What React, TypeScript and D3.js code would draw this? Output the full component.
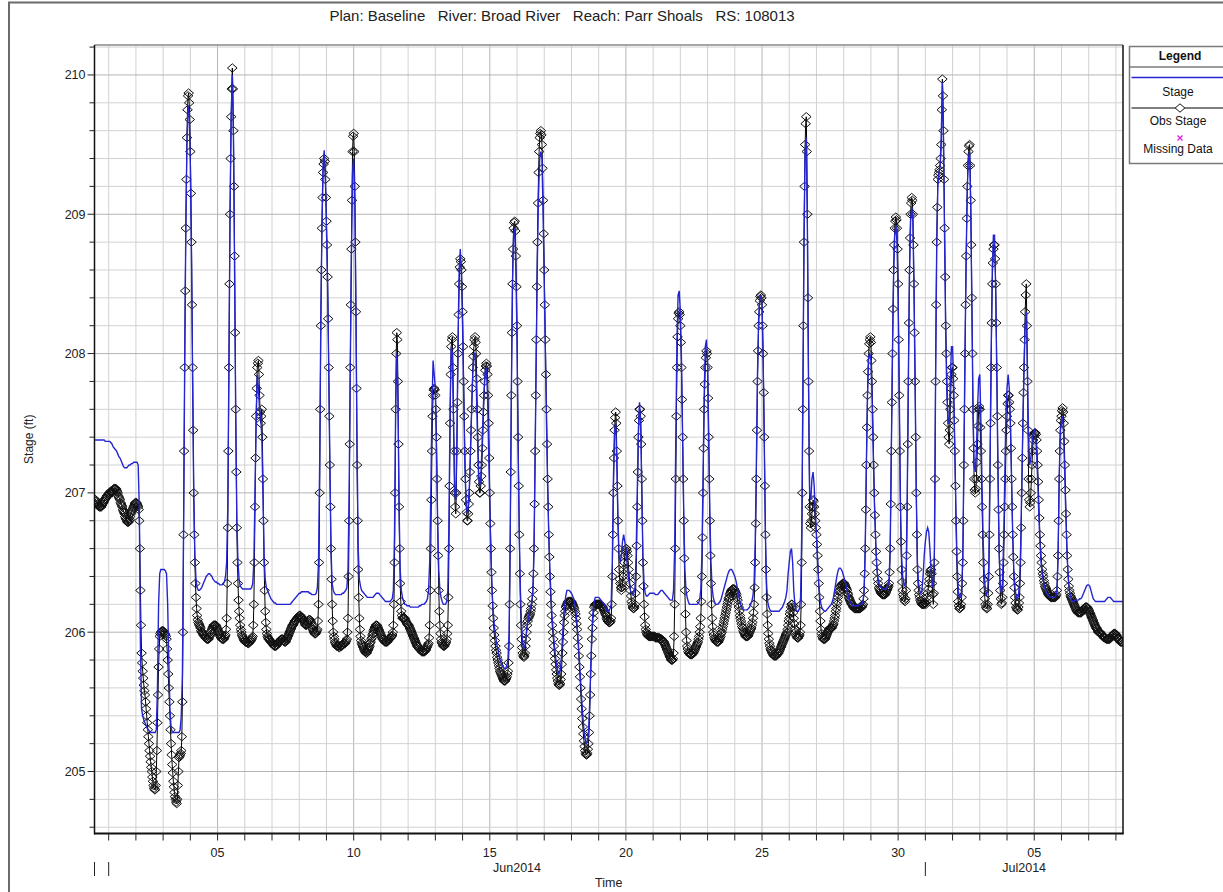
//stage hydrograph: computed stage vs observed stage
import React, { useEffect, useRef } from 'react';
import * as d3 from 'd3';

//observed stage (ft), every 30 min, first row starts 31May2014 12:00
const obsMay = [206.95, 206.95, 206.94, 206.93, 206.92, 206.92, 206.91, 206.9, 206.9, 206.9, 206.9, 206.9, 206.91, 206.92, 206.93, 206.93, 206.94, 206.95, 206.96, 206.96, 206.97, 206.98, 206.98, 206.99];
const obsJun = [
  [206.99, 207.0, 207.0, 207.01, 207.01, 207.0, 207.0, 207.01, 207.02, 207.03, 207.03, 207.03, 207.03, 207.03, 207.02, 207.01, 207.0, 206.98, 206.97, 206.96, 206.95, 206.93, 206.92, 206.91, 206.9, 206.88, 206.87, 206.86, 206.85, 206.83, 206.82, 206.81, 206.8, 206.79, 206.79, 206.79, 206.8, 206.81, 206.83, 206.85, 206.86, 206.87, 206.88, 206.89, 206.9, 206.91, 206.92, 206.93],
  [206.93, 206.93, 206.92, 206.91, 206.9, 206.88, 206.8, 206.6, 206.3, 206.05, 205.85, 205.78, 205.72, 205.67, 205.62, 205.58, 205.55, 205.5, 205.45, 205.4, 205.35, 205.3, 205.25, 205.2, 205.15, 205.11, 205.07, 205.03, 205.0, 204.96, 204.93, 204.9, 204.88, 204.87, 204.87, 204.9, 205.0, 205.15, 205.35, 205.55, 205.75, 205.88, 205.97, 205.99, 206.0, 206.0, 206.01, 206.01],
  [206.01, 206.0, 206.0, 205.99, 205.98, 205.97, 205.95, 205.88, 205.8, 205.7, 205.6, 205.5, 205.4, 205.3, 205.2, 205.12, 205.05, 204.99, 204.93, 204.89, 204.85, 204.82, 204.8, 204.78, 204.77, 204.8, 204.9, 205.0, 205.1, 205.11, 205.12, 205.13, 205.15, 205.25, 205.5, 206.0, 206.7, 207.3, 207.9, 208.45, 208.9, 209.25, 209.55, 209.75, 209.85, 209.87, 209.8, 209.68],
  [209.45, 209.15, 208.8, 208.35, 207.9, 207.45, 207.0, 206.7, 206.5, 206.35, 206.25, 206.17, 206.12, 206.09, 206.07, 206.06, 206.05, 206.04, 206.03, 206.01, 206.0, 206.0, 205.99, 205.98, 205.98, 205.97, 205.97, 205.96, 205.96, 205.95, 205.95, 205.95, 205.95, 205.96, 205.97, 205.98, 206.0, 206.01, 206.02, 206.03, 206.04, 206.05, 206.05, 206.05, 206.05, 206.05, 206.04, 206.03],
  [206.02, 206.01, 206.0, 205.99, 205.98, 205.97, 205.96, 205.96, 205.95, 205.95, 205.95, 205.95, 205.96, 205.97, 205.98, 206.02, 206.1, 206.35, 206.75, 207.3, 207.9, 208.5, 209.0, 209.4, 209.7, 209.9, 210.05, 209.9, 209.6, 209.2, 208.7, 208.15, 207.6, 207.15, 206.75, 206.5, 206.35, 206.23, 206.15, 206.1, 206.05, 206.02, 206.0, 205.98, 205.97, 205.96, 205.95, 205.94],
  [205.94, 205.93, 205.93, 205.93, 205.93, 205.92, 205.92, 205.92, 205.93, 205.93, 205.94, 205.94, 205.95, 205.96, 205.97, 206.05, 206.2, 206.5, 206.9, 207.25, 207.55, 207.75, 207.9, 207.93, 207.95, 207.85, 207.7, 207.58, 207.5, 207.55, 207.6, 207.4, 207.1, 206.8, 206.5, 206.3, 206.15, 206.07, 206.02, 205.99, 205.97, 205.96, 205.95, 205.95, 205.94, 205.94, 205.93, 205.93],
  [205.92, 205.92, 205.91, 205.91, 205.9, 205.9, 205.9, 205.9, 205.91, 205.91, 205.92, 205.92, 205.93, 205.93, 205.94, 205.94, 205.95, 205.95, 205.95, 205.95, 205.94, 205.94, 205.93, 205.93, 205.93, 205.94, 205.95, 205.96, 205.97, 205.98, 205.99, 206.0, 206.01, 206.02, 206.03, 206.04, 206.05, 206.05, 206.06, 206.07, 206.08, 206.08, 206.09, 206.09, 206.1, 206.1, 206.11, 206.11],
  [206.12, 206.12, 206.12, 206.11, 206.11, 206.1, 206.1, 206.09, 206.08, 206.07, 206.06, 206.05, 206.05, 206.05, 206.06, 206.07, 206.08, 206.09, 206.09, 206.09, 206.08, 206.07, 206.05, 206.03, 206.02, 206.01, 206.0, 205.99, 205.99, 205.99, 206.0, 206.01, 206.02, 206.08, 206.2, 206.5, 207.0, 207.6, 208.2, 208.6, 208.9, 209.12, 209.3, 209.36, 209.4, 209.38, 209.25, 209.12],
  [208.95, 208.78, 208.55, 208.25, 207.9, 207.55, 207.2, 206.9, 206.6, 206.38, 206.2, 206.08, 206.0, 205.97, 205.95, 205.93, 205.92, 205.91, 205.9, 205.9, 205.9, 205.9, 205.89, 205.89, 205.9, 205.9, 205.9, 205.9, 205.91, 205.91, 205.92, 205.92, 205.92, 205.92, 205.93, 205.94, 205.95, 206.0, 206.1, 206.4, 206.8, 207.35, 207.9, 208.35, 208.75, 209.1, 209.45, 209.56],
  [209.58, 209.45, 209.2, 208.8, 208.3, 207.75, 207.2, 206.8, 206.45, 206.25, 206.1, 206.02, 205.97, 205.94, 205.92, 205.91, 205.9, 205.89, 205.88, 205.87, 205.86, 205.86, 205.85, 205.85, 205.86, 205.87, 205.88, 205.89, 205.9, 205.92, 205.93, 205.95, 205.96, 205.98, 205.99, 206.01, 206.02, 206.03, 206.04, 206.05, 206.05, 206.05, 206.04, 206.03, 206.02, 206.01, 206.0, 205.99],
  [205.98, 205.97, 205.96, 205.95, 205.95, 205.94, 205.94, 205.93, 205.93, 205.93, 205.93, 205.93, 205.94, 205.94, 205.95, 205.95, 205.96, 205.96, 205.97, 205.97, 205.98, 206.0, 206.05, 206.2, 206.5, 207.0, 207.6, 208.0, 208.15, 208.1, 207.8, 207.35, 206.9, 206.6, 206.35, 206.22, 206.15, 206.12, 206.1, 206.1, 206.1, 206.1, 206.1, 206.09, 206.08, 206.07, 206.06, 206.06],
  [206.05, 206.05, 206.04, 206.03, 206.02, 206.01, 206.0, 205.99, 205.98, 205.97, 205.96, 205.95, 205.94, 205.93, 205.92, 205.91, 205.9, 205.9, 205.89, 205.89, 205.88, 205.88, 205.87, 205.87, 205.86, 205.86, 205.86, 205.86, 205.86, 205.86, 205.87, 205.87, 205.88, 205.89, 205.9, 205.91, 205.92, 205.96, 206.05, 206.3, 206.6, 206.95, 207.3, 207.55, 207.7, 207.74, 207.75, 207.74],
  [207.7, 207.6, 207.4, 207.1, 206.8, 206.55, 206.3, 206.15, 206.05, 205.99, 205.95, 205.93, 205.92, 205.91, 205.9, 205.9, 205.9, 205.91, 205.92, 205.93, 205.95, 205.99, 206.05, 206.25, 206.6, 207.05, 207.5, 207.85, 208.05, 208.1, 208.12, 207.9, 207.6, 207.3, 207.0, 206.9, 206.85, 207.0, 207.3, 207.65, 208.0, 208.28, 208.5, 208.62, 208.68, 208.66, 208.6, 208.48],
  [208.3, 208.05, 207.8, 207.55, 207.3, 207.1, 206.95, 206.86, 206.8, 206.8, 206.85, 206.92, 207.0, 207.15, 207.3, 207.45, 207.6, 207.75, 207.9, 207.98, 208.05, 208.1, 208.12, 208.08, 208.0, 207.82, 207.6, 207.4, 207.2, 207.08, 207.0, 207.0, 207.05, 207.12, 207.2, 207.32, 207.45, 207.58, 207.7, 207.8, 207.88, 207.91, 207.93, 207.91, 207.85, 207.7, 207.5, 207.25],
  [207.0, 206.78, 206.6, 206.43, 206.3, 206.19, 206.1, 206.03, 205.98, 205.94, 205.9, 205.87, 205.85, 205.82, 205.8, 205.78, 205.76, 205.74, 205.72, 205.71, 205.7, 205.69, 205.68, 205.67, 205.66, 205.65, 205.65, 205.65, 205.66, 205.67, 205.68, 205.7, 205.72, 205.78, 205.9, 206.2, 206.6, 207.15, 207.7, 208.15, 208.5, 208.75, 208.9, 208.94, 208.95, 208.88, 208.7, 208.48],
  [208.2, 207.8, 207.4, 207.05, 206.7, 206.42, 206.2, 206.05, 205.95, 205.89, 205.85, 205.83, 205.82, 205.83, 205.85, 205.9, 205.95, 206.0, 206.05, 206.08, 206.1, 206.11, 206.12, 206.13, 206.15, 206.17, 206.2, 206.24, 206.3, 206.42, 206.6, 206.92, 207.3, 207.7, 208.1, 208.48, 208.8, 209.08, 209.3, 209.45, 209.55, 209.58, 209.6, 209.57, 209.5, 209.33, 209.1, 208.86],
  [208.6, 208.35, 208.1, 207.85, 207.6, 207.35, 207.1, 206.9, 206.7, 206.54, 206.4, 206.29, 206.2, 206.12, 206.05, 206.0, 205.95, 205.9, 205.85, 205.81, 205.77, 205.73, 205.7, 205.67, 205.65, 205.63, 205.62, 205.62, 205.63, 205.66, 205.7, 205.77, 205.85, 205.93, 206.0, 206.07, 206.12, 206.15, 206.18, 206.19, 206.2, 206.21, 206.22, 206.22, 206.22, 206.22, 206.22, 206.22],
  [206.22, 206.21, 206.2, 206.19, 206.18, 206.17, 206.15, 206.13, 206.1, 206.06, 206.02, 205.96, 205.9, 205.83, 205.75, 205.68, 205.6, 205.52, 205.45, 205.38, 205.32, 205.27, 205.22, 205.18, 205.15, 205.13, 205.12, 205.12, 205.13, 205.16, 205.2, 205.28, 205.4, 205.55, 205.7, 205.83, 205.95, 206.03, 206.1, 206.14, 206.18, 206.19, 206.2, 206.2, 206.2, 206.2, 206.2, 206.2],
  [206.2, 206.2, 206.2, 206.2, 206.19, 206.19, 206.18, 206.18, 206.17, 206.16, 206.15, 206.14, 206.13, 206.12, 206.1, 206.09, 206.08, 206.08, 206.07, 206.07, 206.07, 206.08, 206.1, 206.2, 206.4, 206.7, 207.0, 207.25, 207.45, 207.54, 207.58, 207.5, 207.3, 207.05, 206.8, 206.6, 206.45, 206.38, 206.35, 206.32, 206.3, 206.32, 206.35, 206.4, 206.45, 206.5, 206.55, 206.58],
  [206.6, 206.6, 206.58, 206.55, 206.5, 206.45, 206.4, 206.35, 206.3, 206.26, 206.22, 206.2, 206.18, 206.17, 206.17, 206.18, 206.2, 206.28, 206.4, 206.62, 206.9, 207.15, 207.4, 207.52, 207.6, 207.6, 207.55, 207.35, 207.1, 206.8, 206.5, 206.33, 206.2, 206.11, 206.05, 206.02, 206.0, 205.99, 205.98, 205.98, 205.97, 205.97, 205.97, 205.97, 205.97, 205.97, 205.97, 205.97],
  [205.97, 205.97, 205.97, 205.97, 205.96, 205.96, 205.96, 205.96, 205.96, 205.96, 205.96, 205.96, 205.95, 205.95, 205.95, 205.95, 205.94, 205.94, 205.93, 205.93, 205.92, 205.91, 205.9, 205.89, 205.88, 205.87, 205.86, 205.85, 205.84, 205.83, 205.82, 205.81, 205.8, 205.8, 205.8, 205.81, 205.85, 205.97, 206.2, 206.6, 207.1, 207.55, 207.9, 208.12, 208.25, 208.29, 208.3, 208.28],
  [208.2, 208.08, 207.9, 207.67, 207.4, 207.1, 206.8, 206.53, 206.3, 206.13, 206.0, 205.94, 205.9, 205.88, 205.86, 205.85, 205.85, 205.84, 205.84, 205.84, 205.84, 205.84, 205.85, 205.85, 205.86, 205.87, 205.88, 205.89, 205.9, 205.91, 205.92, 205.93, 205.95, 205.97, 206.0, 206.04, 206.1, 206.22, 206.4, 206.68, 207.0, 207.32, 207.6, 207.78, 207.9, 207.97, 208.02, 208.0],
  [207.9, 207.68, 207.4, 207.1, 206.8, 206.55, 206.35, 206.2, 206.1, 206.04, 206.0, 205.98, 205.96, 205.95, 205.94, 205.94, 205.93, 205.93, 205.93, 205.93, 205.94, 205.95, 205.96, 205.97, 205.99, 206.0, 206.02, 206.04, 206.06, 206.08, 206.1, 206.12, 206.14, 206.16, 206.18, 206.2, 206.22, 206.24, 206.25, 206.27, 206.28, 206.29, 206.3, 206.3, 206.31, 206.31, 206.31, 206.31],
  [206.3, 206.29, 206.28, 206.27, 206.25, 206.23, 206.2, 206.18, 206.15, 206.12, 206.1, 206.08, 206.06, 206.04, 206.03, 206.01, 206.0, 205.99, 205.98, 205.97, 205.97, 205.97, 205.97, 205.97, 205.98, 205.99, 206.0, 206.01, 206.02, 206.03, 206.05, 206.07, 206.1, 206.14, 206.2, 206.32, 206.5, 206.78, 207.1, 207.45, 207.8, 208.02, 208.2, 208.3, 208.38, 208.41, 208.42, 208.4],
  [208.35, 208.2, 208.0, 207.72, 207.4, 207.05, 206.7, 206.45, 206.25, 206.13, 206.05, 205.99, 205.95, 205.92, 205.9, 205.88, 205.87, 205.86, 205.85, 205.84, 205.84, 205.83, 205.83, 205.83, 205.83, 205.83, 205.84, 205.84, 205.85, 205.85, 205.86, 205.87, 205.88, 205.89, 205.9, 205.91, 205.92, 205.93, 205.94, 205.95, 205.96, 205.97, 205.98, 205.99, 206.0, 206.02, 206.05, 206.08],
  [206.1, 206.13, 206.15, 206.18, 206.2, 206.2, 206.18, 206.14, 206.1, 206.06, 206.02, 206.0, 205.98, 205.97, 205.96, 205.96, 205.96, 205.97, 205.98, 206.0, 206.05, 206.2, 206.5, 207.0, 207.6, 208.2, 208.8, 209.2, 209.5, 209.65, 209.7, 209.45, 209.0, 208.4, 207.8, 207.3, 206.9, 206.78, 206.75, 206.8, 206.85, 206.9, 206.95, 206.94, 206.9, 206.85, 206.8, 206.75],
  [206.7, 206.63, 206.55, 206.45, 206.35, 206.25, 206.15, 206.08, 206.02, 205.99, 205.97, 205.96, 205.95, 205.95, 205.95, 205.95, 205.96, 205.97, 205.98, 205.99, 206.0, 206.01, 206.02, 206.02, 206.03, 206.03, 206.03, 206.03, 206.04, 206.05, 206.06, 206.08, 206.1, 206.12, 206.15, 206.17, 206.2, 206.22, 206.25, 206.27, 206.29, 206.3, 206.32, 206.33, 206.34, 206.34, 206.35, 206.35],
  [206.35, 206.35, 206.34, 206.33, 206.32, 206.31, 206.3, 206.28, 206.27, 206.25, 206.24, 206.23, 206.22, 206.21, 206.2, 206.2, 206.19, 206.18, 206.18, 206.17, 206.17, 206.17, 206.17, 206.17, 206.17, 206.17, 206.17, 206.17, 206.17, 206.17, 206.18, 206.18, 206.18, 206.19, 206.2, 206.24, 206.3, 206.42, 206.6, 206.88, 207.2, 207.47, 207.7, 207.87, 208.0, 208.07, 208.1, 208.12],
  [208.08, 207.95, 207.8, 207.6, 207.4, 207.2, 207.0, 206.84, 206.7, 206.58, 206.5, 206.43, 206.38, 206.35, 206.32, 206.31, 206.3, 206.29, 206.28, 206.28, 206.27, 206.27, 206.27, 206.27, 206.27, 206.27, 206.28, 206.29, 206.3, 206.31, 206.32, 206.33, 206.35, 206.43, 206.6, 206.92, 207.3, 207.65, 208.0, 208.32, 208.6, 208.78, 208.9, 208.95, 208.98, 208.96, 208.9, 208.75],
  [208.5, 208.1, 207.7, 207.3, 206.9, 206.65, 206.45, 206.36, 206.3, 206.27, 206.25, 206.23, 206.22, 206.24, 206.3, 206.55, 206.9, 207.35, 207.8, 208.22, 208.6, 208.83, 209.0, 209.08, 209.12, 209.1, 209.0, 208.78, 208.5, 208.15, 207.8, 207.4, 207.0, 206.7, 206.45, 206.35, 206.3, 206.27, 206.25, 206.23, 206.22, 206.21, 206.2, 206.2, 206.2, 206.2, 206.2, 206.21],
];
const obsJul = [
  [206.21, 206.2, 206.22, 206.25, 206.28, 206.31, 206.35, 206.38, 206.42, 206.44, 206.45, 206.42, 206.35, 206.27, 206.2, 206.28, 206.5, 207.1, 207.8, 208.35, 208.8, 209.05, 209.25, 209.28, 209.3, 209.32, 209.35, 209.4, 209.5, 209.75, 209.97, 209.85, 209.6, 209.25, 208.9, 208.55, 208.2, 208.0, 207.8, 207.65, 207.5, 207.4, 207.35, 207.45, 207.6, 207.75, 207.85, 207.9],
  [207.9, 207.82, 207.7, 207.52, 207.3, 207.05, 206.8, 206.58, 206.4, 206.29, 206.22, 206.19, 206.17, 206.17, 206.18, 206.2, 206.25, 206.35, 206.5, 206.8, 207.2, 207.6, 208.0, 208.35, 208.7, 208.97, 209.2, 209.35, 209.45, 209.49, 209.5, 209.35, 209.1, 208.78, 208.4, 208.0, 207.6, 207.32, 207.1, 207.02, 207.0, 207.03, 207.1, 207.22, 207.35, 207.48, 207.6, 207.62],
  [207.6, 207.47, 207.3, 207.1, 206.9, 206.7, 206.5, 206.38, 206.3, 206.24, 206.2, 206.18, 206.17, 206.17, 206.2, 206.28, 206.4, 206.7, 207.1, 207.5, 207.9, 208.22, 208.5, 208.65, 208.75, 208.78, 208.78, 208.68, 208.5, 208.22, 207.9, 207.55, 207.2, 206.88, 206.6, 206.43, 206.3, 206.24, 206.2, 206.21, 206.25, 206.35, 206.5, 206.7, 206.9, 207.1, 207.3, 207.45],
  [207.55, 207.64, 207.7, 207.7, 207.65, 207.6, 207.5, 207.32, 207.1, 206.9, 206.7, 206.54, 206.4, 206.32, 206.25, 206.21, 206.18, 206.17, 206.16, 206.16, 206.18, 206.21, 206.25, 206.35, 206.5, 206.75, 207.0, 207.25, 207.5, 207.72, 207.9, 208.1, 208.3, 208.42, 208.5, 208.2, 207.8, 207.45, 207.1, 206.95, 206.9, 206.93, 207.0, 207.1, 207.2, 207.3, 207.38, 207.41],
  [207.42, 207.43, 207.43, 207.42, 207.38, 207.3, 207.2, 207.08, 206.95, 206.82, 206.7, 206.62, 206.55, 206.5, 206.45, 206.42, 206.4, 206.37, 206.35, 206.33, 206.32, 206.31, 206.3, 206.29, 206.28, 206.27, 206.27, 206.26, 206.26, 206.25, 206.25, 206.25, 206.25, 206.25, 206.25, 206.25, 206.25, 206.25, 206.26, 206.27, 206.3, 206.4, 206.55, 206.8, 207.1, 207.3, 207.45, 207.52],
  [207.55, 207.59, 207.61, 207.58, 207.5, 207.37, 207.2, 207.02, 206.85, 206.7, 206.55, 206.45, 206.38, 206.33, 206.3, 206.28, 206.26, 206.25, 206.24, 206.23, 206.22, 206.21, 206.2, 206.19, 206.18, 206.17, 206.16, 206.15, 206.15, 206.14, 206.14, 206.14, 206.14, 206.14, 206.14, 206.14, 206.15, 206.15, 206.16, 206.16, 206.17, 206.17, 206.18, 206.18, 206.18, 206.18, 206.17, 206.17],
  [206.16, 206.15, 206.14, 206.13, 206.12, 206.11, 206.1, 206.09, 206.08, 206.07, 206.06, 206.05, 206.04, 206.03, 206.03, 206.02, 206.01, 206.0, 206.0, 206.0, 206.0, 205.99, 205.99, 205.98, 205.98, 205.97, 205.97, 205.96, 205.96, 205.96, 205.96, 205.95, 205.95, 205.95, 205.95, 205.95, 205.95, 205.95, 205.96, 205.96, 205.97, 205.97, 205.98, 205.98, 205.99, 205.99, 205.99, 205.99],
  [205.98, 205.98, 205.97, 205.96, 205.95, 205.95, 205.94, 205.94, 205.93, 205.93, 205.93, 205.93, 205.93],
];

//computed stage (ft), hourly, first row starts 31May2014 12:00
const stageMay = [207.38, 207.38, 207.38, 207.38, 207.38, 207.38, 207.38, 207.38, 207.38, 207.37, 207.37, 207.37];
const stageJun = [
  [207.37, 207.37, 207.36, 207.35, 207.33, 207.32, 207.31, 207.3, 207.28, 207.26, 207.25, 207.23, 207.21, 207.19, 207.18, 207.18, 207.18, 207.19, 207.2, 207.2, 207.21, 207.21, 207.22, 207.22],
  [207.22, 207.22, 207.2, 206.9, 205.9, 205.45, 205.4, 205.37, 205.35, 205.33, 205.31, 205.3, 205.29, 205.28, 205.28, 205.28, 205.28, 205.28, 205.3, 205.6, 206.2, 206.42, 206.45, 206.45],
  [206.45, 206.45, 206.44, 206.42, 206.2, 205.8, 205.45, 205.32, 205.28, 205.28, 205.28, 205.28, 205.28, 205.28, 205.28, 205.3, 205.4, 205.7, 206.7, 207.9, 208.9, 209.5, 209.78, 209.72],
  [209.35, 208.7, 207.8, 207.0, 206.55, 206.38, 206.32, 206.3, 206.3, 206.31, 206.32, 206.34, 206.36, 206.38, 206.4, 206.41, 206.42, 206.42, 206.41, 206.4, 206.38, 206.37, 206.36, 206.36],
  [206.35, 206.35, 206.34, 206.34, 206.34, 206.35, 206.36, 206.4, 206.5, 206.9, 207.9, 209.0, 209.7, 210.0, 209.55, 208.6, 207.55, 206.8, 206.5, 206.38, 206.33, 206.32, 206.31, 206.31],
  [206.31, 206.31, 206.31, 206.31, 206.31, 206.31, 206.32, 206.35, 206.5, 207.0, 207.5, 207.85, 207.75, 207.6, 207.55, 207.4, 207.0, 206.55, 206.38, 206.32, 206.3, 206.28, 206.26, 206.24],
  [206.23, 206.22, 206.21, 206.21, 206.2, 206.2, 206.2, 206.2, 206.2, 206.2, 206.2, 206.2, 206.2, 206.2, 206.2, 206.2, 206.2, 206.21, 206.22, 206.23, 206.24, 206.25, 206.26, 206.27],
  [206.28, 206.28, 206.29, 206.29, 206.29, 206.29, 206.29, 206.29, 206.29, 206.28, 206.28, 206.27, 206.27, 206.27, 206.27, 206.28, 206.32, 206.5, 207.2, 208.2, 208.9, 209.35, 209.46, 209.3],
  [208.9, 208.5, 207.9, 207.2, 206.6, 206.35, 206.3, 206.28, 206.27, 206.27, 206.27, 206.27, 206.27, 206.27, 206.28, 206.28, 206.29, 206.3, 206.32, 206.45, 207.0, 207.9, 208.7, 209.3],
  [209.4, 209.1, 208.3, 207.3, 206.6, 206.38, 206.33, 206.3, 206.29, 206.28, 206.27, 206.26, 206.25, 206.25, 206.25, 206.25, 206.25, 206.25, 206.26, 206.27, 206.28, 206.28, 206.28, 206.27],
  [206.26, 206.25, 206.24, 206.23, 206.22, 206.22, 206.22, 206.22, 206.22, 206.23, 206.24, 206.3, 206.7, 207.6, 208.0, 207.7, 206.9, 206.45, 206.3, 206.25, 206.22, 206.2, 206.2, 206.19],
  [206.19, 206.19, 206.18, 206.18, 206.18, 206.18, 206.18, 206.18, 206.18, 206.18, 206.19, 206.19, 206.2, 206.2, 206.2, 206.21, 206.22, 206.24, 206.3, 206.5, 207.0, 207.6, 207.95, 207.85],
  [207.75, 207.3, 206.8, 206.45, 206.3, 206.25, 206.22, 206.2, 206.2, 206.2, 206.22, 206.3, 206.8, 207.6, 208.05, 208.0, 207.5, 207.0, 206.95, 207.4, 208.1, 208.6, 208.75, 208.55],
  [208.2, 207.7, 207.2, 206.95, 206.85, 206.9, 207.05, 207.3, 207.6, 207.85, 208.0, 208.0, 207.8, 207.45, 207.15, 207.05, 207.1, 207.3, 207.55, 207.75, 207.88, 207.9, 207.7, 207.3],
  [206.9, 206.55, 206.3, 206.15, 206.05, 205.98, 205.92, 205.88, 205.84, 205.8, 205.78, 205.76, 205.75, 205.74, 205.74, 205.76, 205.8, 206.0, 206.7, 207.7, 208.5, 208.85, 208.9, 208.6],
  [208.1, 207.3, 206.7, 206.3, 206.05, 205.92, 205.88, 205.9, 205.98, 206.05, 206.1, 206.15, 206.18, 206.22, 206.3, 206.6, 207.3, 208.0, 208.7, 209.15, 209.4, 209.45, 209.4, 209.0],
  [208.5, 208.0, 207.5, 207.05, 206.7, 206.45, 206.25, 206.1, 206.0, 205.9, 205.82, 205.76, 205.72, 205.7, 205.72, 205.8, 205.95, 206.1, 206.2, 206.26, 206.3, 206.3, 206.3, 206.29],
  [206.28, 206.26, 206.24, 206.2, 206.14, 206.05, 205.93, 205.8, 205.66, 205.52, 205.4, 205.3, 205.23, 205.2, 205.21, 205.28, 205.47, 205.75, 206.0, 206.15, 206.22, 206.25, 206.25, 206.25],
  [206.25, 206.24, 206.23, 206.22, 206.21, 206.2, 206.18, 206.16, 206.15, 206.15, 206.17, 206.2, 206.5, 207.1, 207.45, 207.5, 207.2, 206.8, 206.55, 206.5, 206.55, 206.65, 206.7, 206.65],
  [206.6, 206.5, 206.42, 206.35, 206.3, 206.28, 206.27, 206.28, 206.32, 206.55, 207.0, 207.45, 207.65, 207.5, 207.0, 206.55, 206.35, 206.28, 206.26, 206.26, 206.27, 206.28, 206.28, 206.28],
  [206.28, 206.28, 206.27, 206.27, 206.27, 206.28, 206.29, 206.3, 206.3, 206.29, 206.28, 206.27, 206.26, 206.25, 206.24, 206.23, 206.23, 206.23, 206.3, 206.6, 207.4, 208.1, 208.42, 208.45],
  [208.3, 207.95, 207.4, 206.85, 206.45, 206.3, 206.25, 206.22, 206.2, 206.2, 206.2, 206.2, 206.2, 206.2, 206.2, 206.2, 206.21, 206.23, 206.3, 206.55, 207.1, 207.7, 208.05, 208.1],
  [207.95, 207.4, 206.85, 206.5, 206.32, 206.25, 206.22, 206.2, 206.2, 206.2, 206.21, 206.22, 206.24, 206.27, 206.3, 206.33, 206.36, 206.39, 206.42, 206.44, 206.45, 206.45, 206.44, 206.42],
  [206.4, 206.37, 206.33, 206.28, 206.24, 206.2, 206.18, 206.17, 206.16, 206.16, 206.16, 206.16, 206.17, 206.18, 206.2, 206.22, 206.26, 206.35, 206.65, 207.2, 207.85, 208.25, 208.4, 208.42],
  [208.35, 207.95, 207.35, 206.7, 206.35, 206.22, 206.18, 206.16, 206.15, 206.15, 206.15, 206.15, 206.15, 206.15, 206.15, 206.15, 206.16, 206.17, 206.18, 206.2, 206.22, 206.25, 206.3, 206.42],
  [206.5, 206.58, 206.6, 206.5, 206.3, 206.2, 206.16, 206.15, 206.15, 206.17, 206.25, 206.7, 207.7, 208.8, 209.45, 209.55, 208.9, 207.8, 207.0, 206.95, 207.1, 207.15, 207.05, 206.85],
  [206.7, 206.5, 206.35, 206.25, 206.2, 206.17, 206.16, 206.15, 206.15, 206.16, 206.17, 206.18, 206.19, 206.2, 206.22, 206.25, 206.3, 206.35, 206.4, 206.44, 206.46, 206.46, 206.45, 206.43],
  [206.4, 206.37, 206.34, 206.3, 206.26, 206.23, 206.21, 206.2, 206.19, 206.19, 206.19, 206.19, 206.19, 206.19, 206.2, 206.2, 206.2, 206.22, 206.3, 206.6, 207.2, 207.7, 207.98, 208.0],
  [207.95, 207.7, 207.3, 206.95, 206.7, 206.5, 206.4, 206.35, 206.33, 206.32, 206.31, 206.31, 206.31, 206.31, 206.32, 206.34, 206.38, 206.6, 207.3, 208.0, 208.55, 208.85, 208.92, 208.8],
  [208.4, 207.7, 206.95, 206.55, 206.4, 206.35, 206.33, 206.4, 206.95, 207.8, 208.55, 208.95, 209.05, 208.95, 208.45, 207.75, 207.0, 206.5, 206.35, 206.3, 206.28, 206.3, 206.4, 206.55],
];
const stageJul = [
  [206.65, 206.72, 206.75, 206.72, 206.6, 206.45, 206.35, 206.32, 206.6, 207.8, 208.75, 209.2, 209.3, 209.35, 209.55, 209.95, 209.5, 208.8, 208.1, 207.7, 207.5, 207.5, 207.8, 208.05],
  [208.05, 207.75, 207.3, 206.85, 206.5, 206.3, 206.25, 206.25, 206.3, 206.55, 207.25, 208.05, 208.7, 209.2, 209.4, 209.45, 209.05, 208.35, 207.6, 207.2, 207.15, 207.3, 207.6, 207.82],
  [207.85, 207.5, 207.05, 206.65, 206.4, 206.3, 206.27, 206.3, 206.5, 207.2, 208.0, 208.6, 208.85, 208.85, 208.45, 207.85, 207.15, 206.6, 206.35, 206.28, 206.35, 206.65, 207.1, 207.55],
  [207.75, 207.85, 207.75, 207.5, 207.1, 206.7, 206.45, 206.32, 206.26, 206.24, 206.26, 206.35, 206.6, 207.05, 207.5, 207.9, 208.2, 208.3, 207.9, 207.4, 207.2, 207.25, 207.35, 207.42],
  [207.45, 207.42, 207.3, 207.1, 206.85, 206.65, 206.5, 206.42, 206.37, 206.33, 206.3, 206.28, 206.27, 206.26, 206.25, 206.25, 206.25, 206.25, 206.25, 206.26, 206.3, 206.55, 207.1, 207.45],
  [207.5, 207.55, 207.4, 207.1, 206.8, 206.55, 206.4, 206.3, 206.25, 206.23, 206.22, 206.22, 206.23, 206.23, 206.23, 206.23, 206.24, 206.24, 206.25, 206.27, 206.29, 206.31, 206.33, 206.34],
  [206.34, 206.33, 206.3, 206.27, 206.24, 206.23, 206.22, 206.22, 206.22, 206.22, 206.22, 206.22, 206.22, 206.22, 206.22, 206.23, 206.24, 206.25, 206.25, 206.25, 206.24, 206.23, 206.22, 206.22],
  [206.22, 206.22, 206.22, 206.22, 206.22, 206.22, 206.22],
];

const titleText = 'Plan: Baseline   River: Broad River   Reach: Parr Shoals   RS: 108013';
const legendItems = ['Stage', 'Obs Stage', 'Missing Data'];
const font = 'Liberation Sans, Arial, sans-serif';

const seriesStart = new Date(2014, 4, 31, 12);
const toSeries = (rows: number[][], stepMin: number) =>
    rows.flat().map((v, i) => ({ t: d3.timeMinute.offset(seriesStart, i * stepMin), v }));

const StageChart = () => {
    const d3Plot = useRef<SVGSVGElement>(null);

    useEffect(() => {
        const svg = d3.select(d3Plot.current);
        svg.selectAll('*').remove();

        const obs = toSeries([obsMay, ...obsJun, ...obsJul], 30);
        const stage = toSeries([stageMay, ...stageJun, ...stageJul], 60);

        //plot box
        const left = 94.5, top = 45, right = 1123, bottom = 833.5;

        const x = d3.scaleTime()
            .domain([new Date(2014, 4, 31, 11, 30), new Date(2014, 6, 8, 6, 15)])
            .range([left, right]);
        const y = d3.scaleLinear()
            .domain([204.555, 210.215])
            .range([bottom, top]);

        svg.append('rect').attr('width', 1223).attr('height', 892).attr('fill', '#fff');

        //outer frame
        svg.append('rect')
            .attr('x', 9).attr('y', 2.5).attr('width', 1240).attr('height', 910)
            .attr('fill', 'none').attr('stroke', '#6b6b6b').attr('stroke-width', 2);

        //title
        svg.append('text')
            .attr('x', 562).attr('y', 20.5)
            .attr('text-anchor', 'middle')
            .attr('font-family', font).attr('font-size', 15).attr('fill', '#222')
            .style('white-space', 'pre')
            .text(titleText);

        //grid
        const days = d3.timeDay.range(new Date(2014, 5, 1), new Date(2014, 6, 8, 12));
        const isMajorDay = (d: Date) => d.getDate() % 5 === 0;
        const yTicks = d3.range(0, 29).map(i => +(204.6 + i * 0.2).toFixed(1));
        const isMajorY = (v: number) => Math.abs(v - Math.round(v)) < 1e-6;

        const grid = svg.append('g');
        grid.selectAll('line.vg')
            .data(days)
            .enter().append('line')
            .attr('x1', d => x(d)).attr('x2', d => x(d))
            .attr('y1', top).attr('y2', bottom)
            .attr('stroke', d => isMajorDay(d) ? '#b4b4b4' : '#d2d2d2')
            .attr('stroke-width', 1);
        grid.selectAll('line.hg')
            .data(yTicks)
            .enter().append('line')
            .attr('x1', left).attr('x2', right)
            .attr('y1', d => y(d)).attr('y2', d => y(d))
            .attr('stroke', d => isMajorY(d) ? '#b4b4b4' : '#d2d2d2')
            .attr('stroke-width', 1);

        //clip the series to the plot box
        svg.append('clipPath').attr('id', 'plotClip')
            .append('rect').attr('x', left).attr('y', top)
            .attr('width', right - left).attr('height', bottom - top);

        const plot = svg.append('g').attr('clip-path', 'url(#plotClip)');
        const line = d3.line<{ t: Date, v: number }>().x(d => x(d.t)).y(d => y(d.v));
        const diamond = 'M0,-4.2L4.8,0L0,4.2L-4.8,0Z';

        //observed stage: black line with hollow diamonds
        plot.append('path')
            .datum(obs)
            .attr('d', line)
            .attr('fill', 'none').attr('stroke', '#000').attr('stroke-width', 1);
        plot.append('g')
            .selectAll('path')
            .data(obs)
            .enter().append('path')
            .attr('d', diamond)
            .attr('transform', d => 'translate(' + x(d.t) + ',' + y(d.v) + ')')
            .attr('fill', 'none').attr('stroke', '#111').attr('stroke-width', 1);

        //computed stage: blue line
        plot.append('path')
            .datum(stage)
            .attr('d', line)
            .attr('fill', 'none').attr('stroke', '#2424d2').attr('stroke-width', 1.4);

        //plot borders
        svg.append('line').attr('x1', left).attr('x2', right).attr('y1', top).attr('y2', top)
            .attr('stroke', '#8a8a8a').attr('stroke-width', 1.5);
        svg.append('line').attr('x1', right).attr('x2', right).attr('y1', top).attr('y2', bottom)
            .attr('stroke', '#111').attr('stroke-width', 1.5);
        svg.append('line').attr('x1', left).attr('x2', left).attr('y1', top).attr('y2', bottom + 1)
            .attr('stroke', '#111').attr('stroke-width', 1.5);
        svg.append('line').attr('x1', left).attr('x2', right + 0.75).attr('y1', bottom).attr('y2', bottom)
            .attr('stroke', '#111').attr('stroke-width', 2);

        //y axis ticks and labels
        const yAxis = svg.append('g');
        yAxis.selectAll('line')
            .data(yTicks)
            .enter().append('line')
            .attr('x1', d => isMajorY(d) ? left - 7 : left - 5).attr('x2', left)
            .attr('y1', d => y(d)).attr('y2', d => y(d))
            .attr('stroke', '#222').attr('stroke-width', 1);
        yAxis.selectAll('text')
            .data(yTicks.filter(isMajorY))
            .enter().append('text')
            .attr('x', left - 9).attr('y', d => y(d) + 4.5)
            .attr('text-anchor', 'end')
            .attr('font-family', font).attr('font-size', 12.5).attr('fill', '#222')
            .text(d => d3.format('d')(d));

        svg.append('text')
            .attr('transform', 'translate(33,' + ((top + bottom) / 2) + ') rotate(-90)')
            .attr('text-anchor', 'middle')
            .attr('font-family', font).attr('font-size', 12).attr('fill', '#222')
            .text('Stage (ft)');

        //x axis ticks and labels
        const xAxis = svg.append('g');
        xAxis.selectAll('line')
            .data(days)
            .enter().append('line')
            .attr('x1', d => x(d)).attr('x2', d => x(d))
            .attr('y1', bottom).attr('y2', bottom + 7)
            .attr('stroke', '#222').attr('stroke-width', 1);
        xAxis.selectAll('text')
            .data(days.filter(isMajorDay))
            .enter().append('text')
            .attr('x', d => x(d)).attr('y', 857)
            .attr('text-anchor', 'middle')
            .attr('font-family', font).attr('font-size', 12.5).attr('fill', '#222')
            .text(d => d3.timeFormat('%d')(d));

        //month labels, centred on the visible part of each month
        const [d0, d1] = x.domain();
        const months = d3.timeMonth.range(new Date(2014, 5, 1), d1);
        svg.append('g').selectAll('text')
            .data(months)
            .enter().append('text')
            .attr('x', m => {
                const a = Math.max(+m, +d0);
                const b = Math.min(+d3.timeMonth.offset(m, 1), +d1);
                return (x(new Date(a)) + x(new Date(b))) / 2;
            })
            .attr('y', 872)
            .attr('text-anchor', 'middle')
            .attr('font-family', font).attr('font-size', 12.5).attr('fill', '#222')
            .text(m => d3.timeFormat('%b%Y')(m));

        //month boundary marks
        svg.append('g').selectAll('line')
            .data([d0, ...months])
            .enter().append('line')
            .attr('x1', d => x(d)).attr('x2', d => x(d))
            .attr('y1', 862).attr('y2', 876)
            .attr('stroke', '#222').attr('stroke-width', 1);

        svg.append('text')
            .attr('x', (left + right) / 2).attr('y', 887)
            .attr('text-anchor', 'middle')
            .attr('font-family', font).attr('font-size', 12.5).attr('fill', '#222')
            .text('Time');

        //legend
        const lg = svg.append('g');
        const lx = 1129.5, lcx = 1180;
        lg.append('rect')
            .attr('x', lx).attr('y', 46.5).attr('width', 120).attr('height', 117)
            .attr('fill', '#fff').attr('stroke', '#7a7a7a').attr('stroke-width', 1.5);
        lg.append('text')
            .attr('x', lcx).attr('y', 60)
            .attr('text-anchor', 'middle')
            .attr('font-family', font).attr('font-size', 12).attr('font-weight', 'bold').attr('fill', '#111')
            .text('Legend');
        lg.append('line').attr('x1', lx).attr('x2', 1250).attr('y1', 67).attr('y2', 67)
            .attr('stroke', '#7a7a7a').attr('stroke-width', 1.5);
        lg.append('line').attr('x1', lx + 2).attr('x2', 1250).attr('y1', 77.5).attr('y2', 77.5)
            .attr('stroke', '#2424d2').attr('stroke-width', 1.4);
        lg.append('line').attr('x1', lx + 2).attr('x2', 1250).attr('y1', 108).attr('y2', 108)
            .attr('stroke', '#000').attr('stroke-width', 1);
        lg.append('path').attr('d', diamond)
            .attr('transform', 'translate(' + lcx + ',108)')
            .attr('fill', '#fff').attr('stroke', '#111');
        lg.append('path').attr('d', 'M-2.5,-2.5L2.5,2.5M-2.5,2.5L2.5,-2.5')
            .attr('transform', 'translate(' + lcx + ',138)')
            .attr('stroke', '#e01ee0').attr('stroke-width', 1.3);
        lg.selectAll('text.item')
            .data(legendItems)
            .enter().append('text')
            .attr('x', lcx - 2).attr('y', (d, i) => [96, 125, 153][i])
            .attr('text-anchor', 'middle')
            .attr('font-family', font).attr('font-size', 12).attr('fill', '#111')
            .text(d => d);

    }, []);

    return (
        <svg ref={d3Plot} width={1223} height={892}
            style={{ position: 'absolute', left: 0, top: 0, display: 'block' }} />
    );
};

export default StageChart;
